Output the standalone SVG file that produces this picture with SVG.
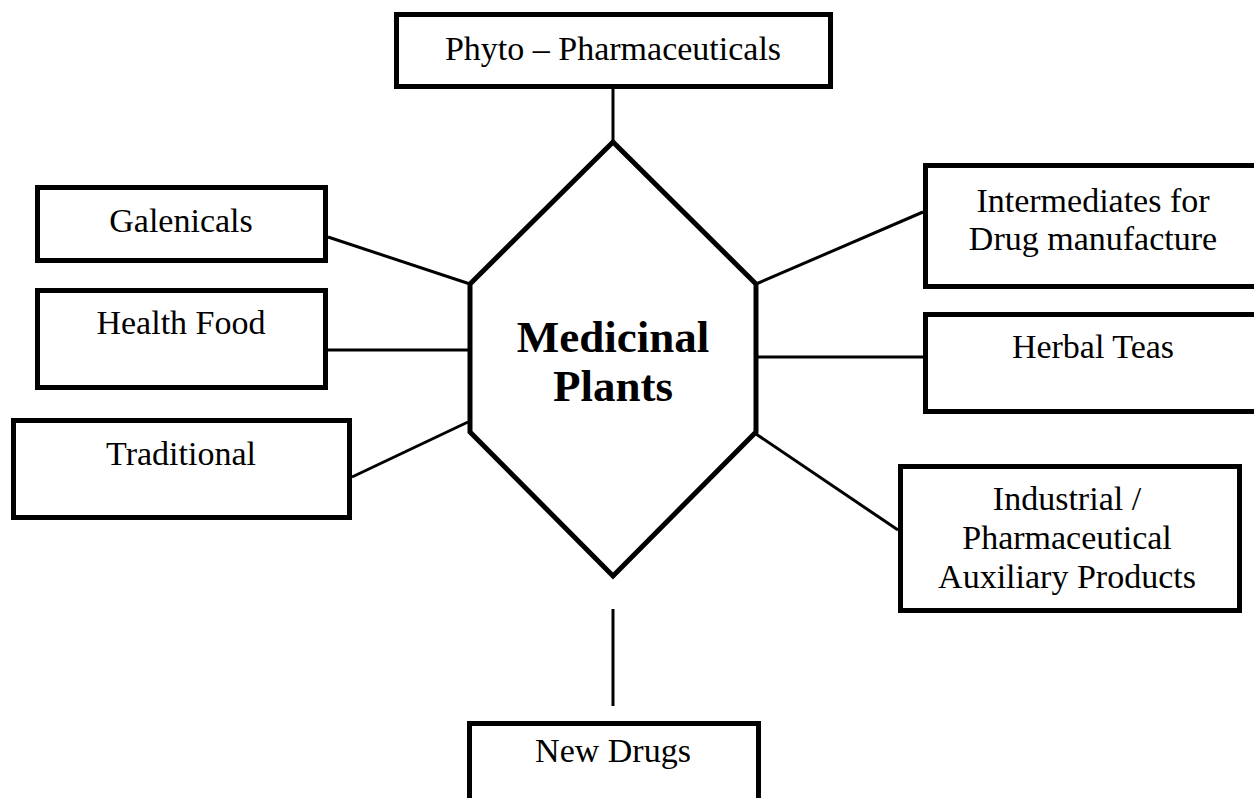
<svg xmlns="http://www.w3.org/2000/svg" width="1254" height="798" viewBox="0 0 1254 798">
  <style>
    .box { fill: #ffffff; stroke: #000000; stroke-width: 5; }
    .hex { fill: #ffffff; stroke: #000000; stroke-width: 5; stroke-linejoin: miter; }
    .link { stroke: #000000; stroke-width: 3; fill: none; }
    .lbl { font-family: "Liberation Serif", "Times New Roman", serif; font-size: 34px; fill: #000000; text-anchor: middle; }
    .title { font-family: "Liberation Serif", "Times New Roman", serif; font-size: 45px; font-weight: bold; fill: #000000; text-anchor: middle; }
  </style>
  <rect x="0" y="0" width="1254" height="798" fill="#ffffff"/>

  <!-- connectors from the central hexagon to each product box -->
  <g id="connectors">
    <line class="link" x1="613" y1="89" x2="613" y2="142"/>
    <line class="link" x1="328" y1="237" x2="470" y2="284"/>
    <line class="link" x1="328" y1="350" x2="468" y2="350"/>
    <line class="link" x1="352" y1="477" x2="468" y2="422"/>
    <line class="link" x1="756" y1="284" x2="923" y2="212"/>
    <line class="link" x1="758" y1="357" x2="923" y2="357"/>
    <line class="link" x1="756" y1="434" x2="898" y2="530"/>
    <line class="link" x1="613" y1="609" x2="613" y2="706"/>
  </g>

  <!-- central node -->
  <g id="medicinal-plants">
    <polygon class="hex" points="613,142 756,284 756,432 613,576 470,432 470,284"/>
    <text class="title" x="613" y="352">Medicinal</text>
    <text class="title" x="613" y="401">Plants</text>
  </g>

  <g id="phyto-pharmaceuticals">
    <rect class="box" x="396.5" y="14.5" width="434" height="72"/>
    <text class="lbl" x="613" y="60">Phyto – Pharmaceuticals</text>
  </g>

  <g id="galenicals">
    <rect class="box" x="37.5" y="187.5" width="288" height="73"/>
    <text class="lbl" x="181" y="232">Galenicals</text>
  </g>

  <g id="health-food">
    <rect class="box" x="37.5" y="290.5" width="288" height="97"/>
    <text class="lbl" x="181" y="334">Health Food</text>
  </g>

  <g id="traditional">
    <rect class="box" x="13.5" y="420.5" width="336" height="97"/>
    <text class="lbl" x="181" y="465">Traditional</text>
  </g>

  <g id="intermediates">
    <rect class="box" x="925.5" y="165.5" width="340" height="121"/>
    <text class="lbl" x="1093" y="212">Intermediates for</text>
    <text class="lbl" x="1093" y="250">Drug manufacture</text>
  </g>

  <g id="herbal-teas">
    <rect class="box" x="925.5" y="314.5" width="340" height="97"/>
    <text class="lbl" x="1093" y="358">Herbal Teas</text>
  </g>

  <g id="industrial-auxiliary">
    <rect class="box" x="900.5" y="466.5" width="339" height="144"/>
    <text class="lbl" x="1067" y="510">Industrial /</text>
    <text class="lbl" x="1067" y="549">Pharmaceutical</text>
    <text class="lbl" x="1067" y="588">Auxiliary Products</text>
  </g>

  <g id="new-drugs">
    <rect class="box" x="469.5" y="723.5" width="289" height="90"/>
    <text class="lbl" x="613" y="762">New Drugs</text>
  </g>
</svg>
